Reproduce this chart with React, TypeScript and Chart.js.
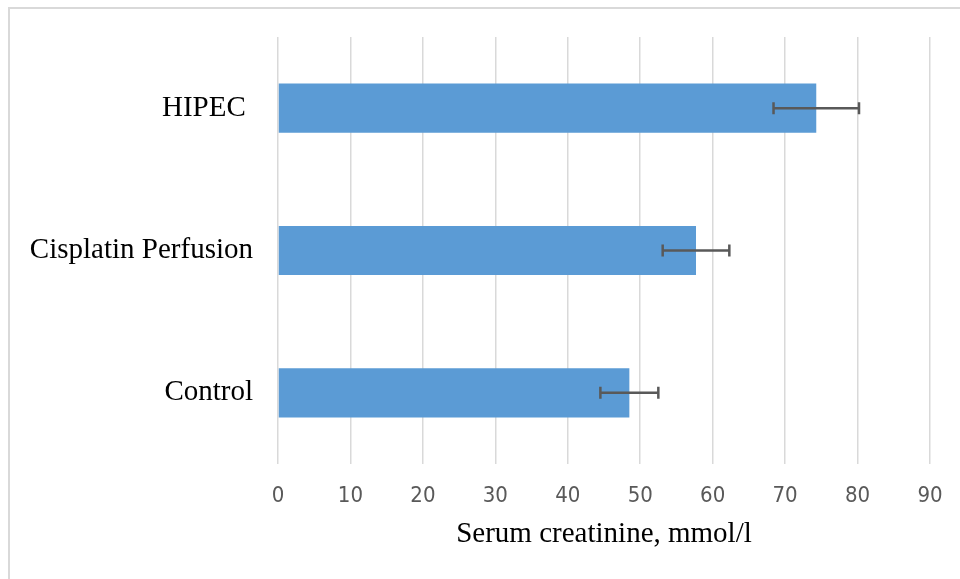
import React, { useEffect, useRef } from "react";
import { Chart, registerables } from "chart.js";

Chart.register(...registerables);

const categories = ["HIPEC ", "Cisplatin Perfusion", "Control"];
const meanValues = [74.3, 57.7, 48.5];
const errorValues = [5.9, 4.6, 4.0];
const xTickMin = 0;
const xTickMax = 90;
const xTickStep = 10;
const axisTitle = "Serum creatinine, mmol/l";

const errorBarPlugin = {
  id: "errorBars",
  afterDatasetsDraw(chart: any) {
    const ctx = chart.ctx;
    const xs = chart.scales.x;
    const ys = chart.scales.y;
    ctx.save();
    ctx.strokeStyle = "#595959";
    ctx.lineWidth = 2.5;
    meanValues.forEach((m, i) => {
      const e = errorValues[i];
      const x0 = xs.getPixelForValue(m - e);
      const x1 = xs.getPixelForValue(m + e);
      const y = ys.getPixelForValue(i);
      const cap = 6;
      ctx.beginPath();
      ctx.moveTo(x0, y);
      ctx.lineTo(x1, y);
      ctx.moveTo(x0, y - cap);
      ctx.lineTo(x0, y + cap);
      ctx.moveTo(x1, y - cap);
      ctx.lineTo(x1, y + cap);
      ctx.stroke();
    });
    ctx.restore();
  },
};

export default function App() {
  const ref = useRef<HTMLCanvasElement | null>(null);

  useEffect(() => {
    if (!ref.current) return;
    const chart = new Chart(ref.current, {
      type: "bar",
      data: {
        labels: categories,
        datasets: [
          {
            data: meanValues,
            backgroundColor: "#5B9BD5",
            borderWidth: 0,
            barPercentage: 0.345,
            categoryPercentage: 1,
          },
        ],
      },
      options: {
        indexAxis: "y",
        animation: false,
        responsive: false,
        devicePixelRatio: 1,
        layout: { padding: { top: 37, right: 30, left: 0, bottom: 0 } },
        plugins: {
          legend: { display: false },
          tooltip: { enabled: false },
        },
        scales: {
          x: {
            min: xTickMin,
            max: xTickMax,
            ticks: {
              stepSize: xTickStep,
              padding: 19,
              color: "#595959",
              font: { family: "'DejaVu Sans Condensed', 'DejaVu Sans'", size: 22 },
            },
            grid: { color: "#d9d9d9", lineWidth: 1.5, drawTicks: false },
            border: { display: false },
            title: {
              display: true,
              text: axisTitle,
              color: "#000000",
              font: { family: "'Liberation Serif', serif", size: 29 },
              padding: { top: 0, bottom: 27 },
            },
            afterFit: (scale: any) => {
              scale.height = 115;
              scale.paddingLeft = 0;
              scale.paddingRight = 0;
            },
          },
          y: {
            ticks: {
              padding: 25,
              color: "#000000",
              font: { family: "'Liberation Serif', serif", size: 29 },
            },
            grid: { display: false, drawTicks: false },
            border: { display: false },
            afterFit: (scale: any) => {
              scale.width = 278;
              scale.paddingTop = 0;
              scale.paddingBottom = 0;
            },
          },
        },
      },
      plugins: [errorBarPlugin],
    });
    return () => chart.destroy();
  }, []);

  return (
    <div
      style={{
        position: "absolute",
        left: 0,
        top: 0,
        width: 960,
        height: 579,
        overflow: "hidden",
        background: "#ffffff",
      }}
    >
      <div
        style={{
          position: "absolute",
          left: 8,
          top: 7,
          width: 1000,
          height: 700,
          border: "2px solid #d9d9d9",
        }}
      />
      <canvas
        ref={ref}
        width={960}
        height={579}
        style={{ position: "absolute", left: 0, top: 0, width: 960, height: 579 }}
      />
    </div>
  );
}
